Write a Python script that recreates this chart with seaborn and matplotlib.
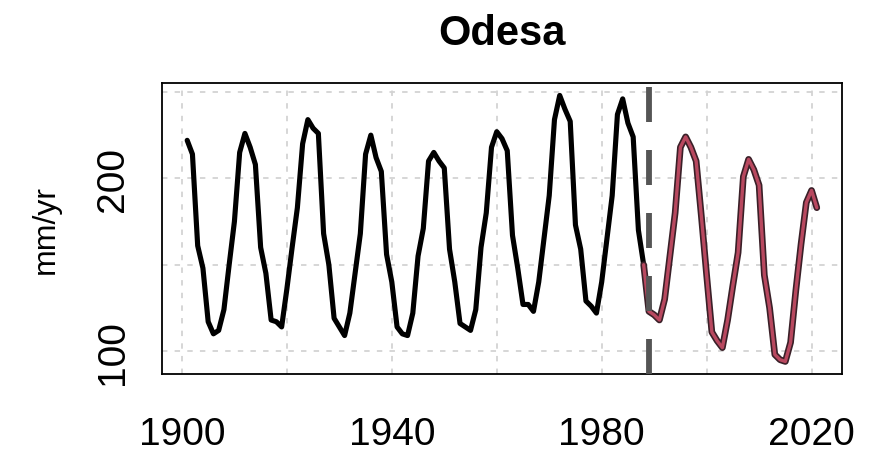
import numpy as np
import pandas as pd
import matplotlib
matplotlib.use("Agg")
import matplotlib.pyplot as plt
import seaborn as sns

title = "Odesa"
y_label = "mm/yr"

hist_years = list(range(1901, 1989))
hist_values = [
    222, 214, 161, 148, 117, 110, 112, 124, 150, 175,   # 1901-1910
    215, 226, 218, 208, 160, 145, 118, 117, 114, 136,   # 1911-1920
    160, 183, 220, 234, 229, 226, 168, 150, 119, 114,   # 1921-1930
    109, 122, 145, 168, 214, 225, 212, 204, 156, 140,   # 1931-1940
    114, 110, 109, 122, 155, 171, 210, 215, 210, 206,   # 1941-1950
    159, 140, 116, 114, 112, 124, 160, 180, 218, 227,   # 1951-1960
    223, 216, 167, 148, 127, 127, 123, 140, 165, 190,   # 1961-1970
    234, 248, 240, 233, 173, 159, 129, 126, 122, 140,   # 1971-1980
    165, 190, 237, 246, 232, 224, 170, 150,             # 1981-1988
]

recent_years = list(range(1988, 2022))
recent_values = [
    150, 123, 121, 118, 130, 155, 180, 218, 224, 218,   # 1988-1997
    210, 178, 144, 111, 106, 102, 118, 138, 157, 201,   # 1998-2007
    211, 205, 196, 144, 125, 98, 95, 94, 105, 135,      # 2008-2017
    162, 186, 193, 183,                                 # 2018-2021
]

split_year = 1989
x_ticks = [1900, 1920, 1940, 1960, 1980, 2000, 2020]
x_tick_labels = ["1900", "", "1940", "", "1980", "", "2020"]
y_ticks = [100, 150, 200, 250]
y_tick_labels = ["100", "", "200", ""]

assert len(hist_years) == len(hist_values)
assert len(recent_years) == len(recent_values)

df_hist = pd.DataFrame({"year": hist_years, "value": hist_values})
df_recent = pd.DataFrame({"year": recent_years, "value": recent_values})

sns.set_style("white")
plt.rcParams["font.family"] = ["Liberation Sans", "DejaVu Sans"]
plt.rcParams["text.color"] = "black"
plt.rcParams["axes.labelcolor"] = "black"

fig = plt.figure(figsize=(8.71, 4.64), dpi=100)
ax = fig.add_axes([0.186, 0.192, 0.9667 - 0.186, 0.819 - 0.192])

# grid
for xv in x_ticks:
    ax.axvline(xv, color="#d3d3d3", lw=1.3, ls=(0, (3, 4)), zorder=0)
for yv in y_ticks:
    ax.axhline(yv, color="#d3d3d3", lw=1.3, ls=(0, (3, 4)), zorder=0)

sns.lineplot(data=df_hist, x="year", y="value", ax=ax, color="black",
             lw=3.7, zorder=3, solid_joinstyle="round")
sns.lineplot(data=df_recent, x="year", y="value", ax=ax, color="#3a2028",
             lw=4.8, zorder=3, solid_joinstyle="round")
sns.lineplot(data=df_recent, x="year", y="value", ax=ax, color="#b8485f",
             lw=2.4, zorder=4, solid_joinstyle="round")

ax.axvline(split_year, color="#555555", lw=4.2, ls=(0, (6, 4.8)), zorder=5)

ax.set_xlim(1896.2, 2025.8)
ax.set_ylim(86.8, 255.2)

ax.set_xticks(x_ticks)
ax.set_xticklabels(x_tick_labels)
ax.set_yticks(y_ticks)
ax.set_yticklabels(y_tick_labels, rotation=90, va="center")

ax.tick_params(axis="both", direction="out", length=16, width=1.3,
               color="black", labelsize=28, labelcolor="black")
ax.tick_params(axis="x", pad=14)
ax.tick_params(axis="y", pad=6)

for s in ax.spines.values():
    s.set_color("black")
    s.set_linewidth(1.3)

ax.set_xlabel("")
ax.set_ylabel(y_label, fontsize=23, labelpad=25, color="black")
ax.set_title(title, fontsize=30, fontweight="bold", pad=28, color="black")

fig.savefig("out.png", dpi=100, facecolor="white")
